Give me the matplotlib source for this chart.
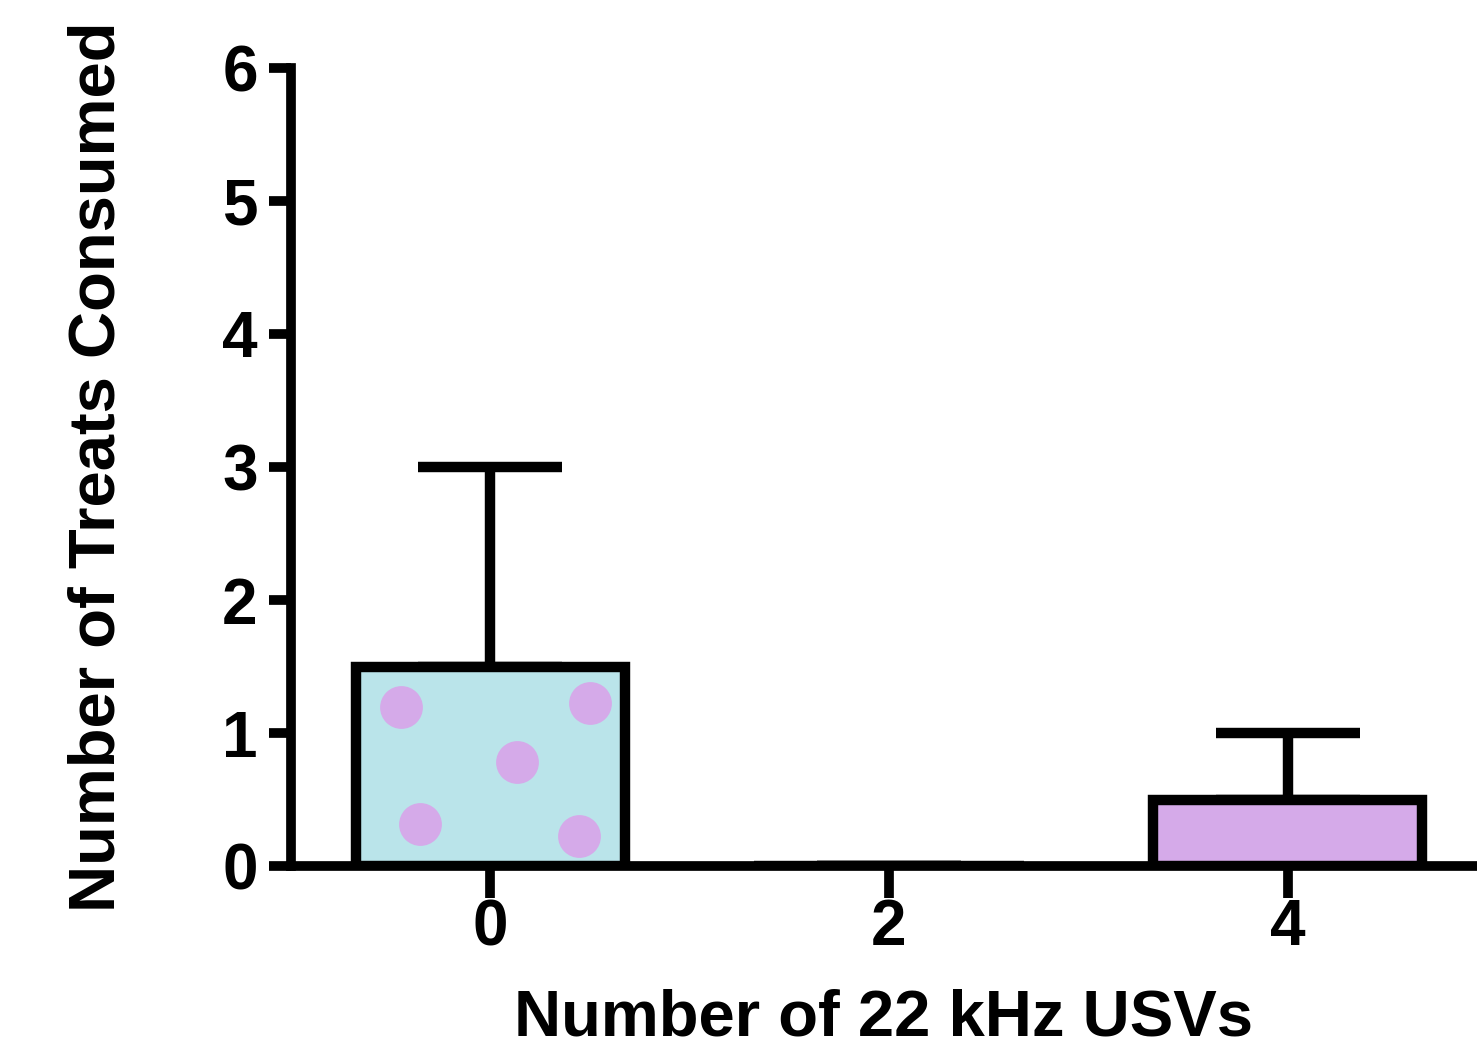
import matplotlib
matplotlib.use("Agg")
import matplotlib.pyplot as plt
import numpy as np

categories = [0, 2, 4]
means = [1.5, 0.0, 0.5]
upper_err = [1.5, 0.0, 0.5]
fill_colors = ["#BAE4EA", "#D5AAE9", "#D5AAE9"]
y_ticks = [0, 1, 2, 3, 4, 5, 6]
x_label = "Number of 22 kHz USVs"
y_label = "Number of Treats Consumed"
# dot pattern on the first bar, as fractions of bar width / height
dot_fx = [0.17, 0.87, 0.60, 0.24, 0.83]
dot_fy = [0.80, 0.82, 0.52, 0.21, 0.15]

plt.rcParams['font.family'] = ['Liberation Sans', 'DejaVu Sans']
plt.rcParams['font.weight'] = 'bold'

fig = plt.figure(figsize=(14.77, 10.59), dpi=100)
ax = fig.add_axes([0.197, 0.182, 0.803, 0.754])

width = 1.35
lw = 7.5
ax.bar(categories, means, width=width, color=fill_colors, edgecolor="black",
       linewidth=lw, zorder=3)
ax.errorbar(categories, means, yerr=[np.zeros(3), upper_err], fmt="none",
            ecolor="black", elinewidth=lw, capsize=52, capthick=lw, zorder=2)

# dots on first bar
x0 = categories[0] - width / 2
dx = [x0 + f * width for f in dot_fx]
dy = [f * means[0] for f in dot_fy]
ax.scatter(dx, dy, s=950, color="#D5AAE9", zorder=4, linewidths=0)

ax.set_xlim(-1.0, 4.95)
ax.set_ylim(0, 6)
ax.set_xticks(categories)
ax.set_yticks(y_ticks)
for s in ["top", "right"]:
    ax.spines[s].set_visible(False)
for s in ["left", "bottom"]:
    ax.spines[s].set_linewidth(7)
ax.tick_params(axis="y", length=16, width=7, labelsize=46, pad=8)
ax.tick_params(axis="x", length=23, width=7, labelsize=46, pad=0)
ax.set_xlabel(x_label, fontsize=47, fontweight="bold", labelpad=22)
ax.set_ylabel(y_label, fontsize=47, fontweight="bold", labelpad=68)

fig.savefig("out.png", dpi=100)
